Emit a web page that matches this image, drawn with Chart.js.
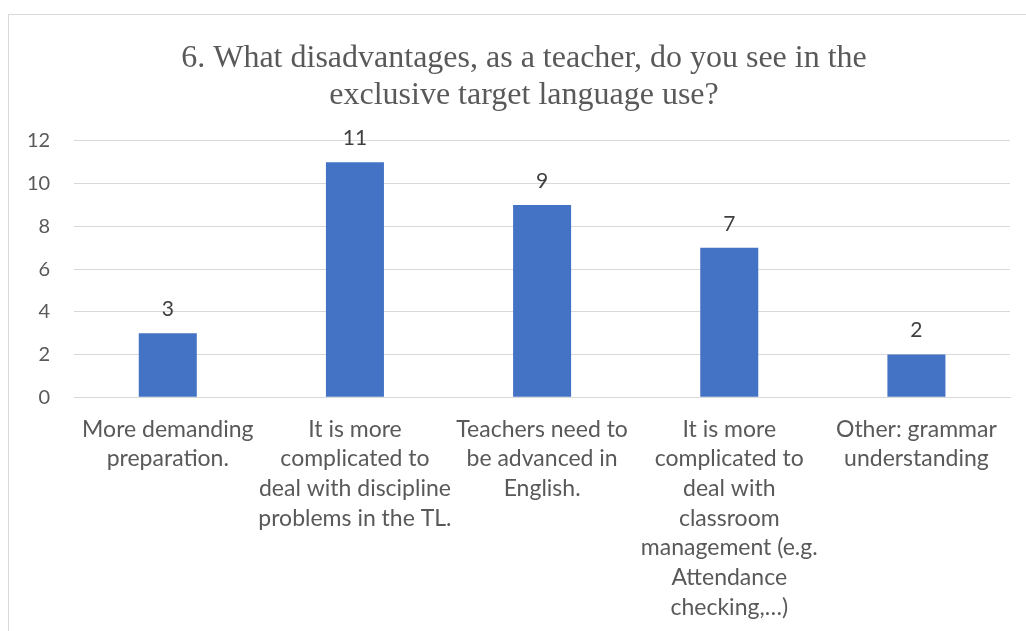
<!DOCTYPE html>
<html>
<head>
<meta charset="utf-8">
<script src="https://cdn.jsdelivr.net/npm/chart.js@4"></script>
<style>
  body { margin: 0; background: #fff; overflow: hidden; }
  #frame { position: absolute; left: 8px; top: 14px; width: 1100px; height: 700px; border: 1px solid #d9d9d9; }
  #wrap { position: absolute; left: 0; top: 0; width: 1045px; height: 639px; }
</style>
</head>
<body>
<div id="frame"></div>
<div id="wrap"><canvas id="raul"></canvas></div>
<script>
const titleLines = ['6. What disadvantages, as a teacher, do you see in the', 'exclusive target language use?'];
const categories = [
  ['More demanding', 'preparation.'],
  ['It is more', 'complicated to', 'deal with discipline', 'problems in the TL.'],
  ['Teachers need to', 'be advanced in', 'English.'],
  ['It is more', 'complicated to', 'deal with', 'classroom', 'management (e.g.', 'Attendance', 'checking,…)'],
  ['Other: grammar', 'understanding'],
];
const values = [3, 11, 9, 7, 2];
const yTicks = [0, 2, 4, 6, 8, 10, 12];

const textFont = 'Lato, "Liberation Sans", sans-serif';
const canvas = document.getElementById('raul');

// value labels above the bars
const barLabels = {
  id: 'barLabels',
  afterDatasetsDraw(chart) {
    const ctx = chart.ctx;
    const meta = chart.getDatasetMeta(0);
    ctx.save();
    ctx.font = '21px ' + textFont;
    ctx.fillStyle = '#404040';
    ctx.textAlign = 'center';
    ctx.textBaseline = 'middle';
    meta.data.forEach((bar, i) => {
      ctx.fillText(String(values[i]), bar.x, bar.y - 24);
    });
    ctx.restore();
  },
};

new Chart(canvas, {
  type: 'bar',
  data: {
    labels: categories,
    datasets: [
      {
        label: 'Series 1',
        data: values,
        backgroundColor: '#4472c4',
        categoryPercentage: 1,
        barPercentage: 0.31,
      },
    ],
  },
  options: {
    responsive: true,
    maintainAspectRatio: false,
    animation: false,
    layout: { padding: { left: 3, right: 0, top: 0, bottom: 0 } },
    plugins: {
      legend: { display: false },
      tooltip: { enabled: false },
      title: {
        display: true,
        text: titleLines,
        color: '#595959',
        font: { family: '"Liberation Serif", "Times New Roman", serif', size: 32, weight: 'normal', lineHeight: 1.156 },
        padding: { top: 40, bottom: 27 },
      },
    },
    scales: {
      x: {
        grid: { display: false, drawTicks: false },
        border: { color: '#d9d9d9' },
        ticks: {
          color: '#595959',
          font: { family: textFont, size: 23, lineHeight: 1.29 },
          padding: 17,
          maxRotation: 0,
          autoSkip: false,
        },
      },
      y: {
        min: 0,
        max: 12,
        grid: { color: '#d9d9d9', drawTicks: false },
        border: { display: false },
        afterBuildTicks: (axis) => {
          axis.ticks = yTicks.map((v) => ({ value: v }));
        },
        ticks: {
          color: '#595959',
          font: { family: textFont, size: 20 },
          padding: 24,
        },
      },
      // empty strip on the right so the title centres over the whole frame
      side: {
        type: 'linear',
        position: 'right',
        grid: { display: false, drawTicks: false },
        border: { display: false },
        ticks: { display: false },
        afterFit: (axis) => {
          axis.width = 35;
        },
      },
    },
  },
  plugins: [barLabels],
});
</script>
</body>
</html>
